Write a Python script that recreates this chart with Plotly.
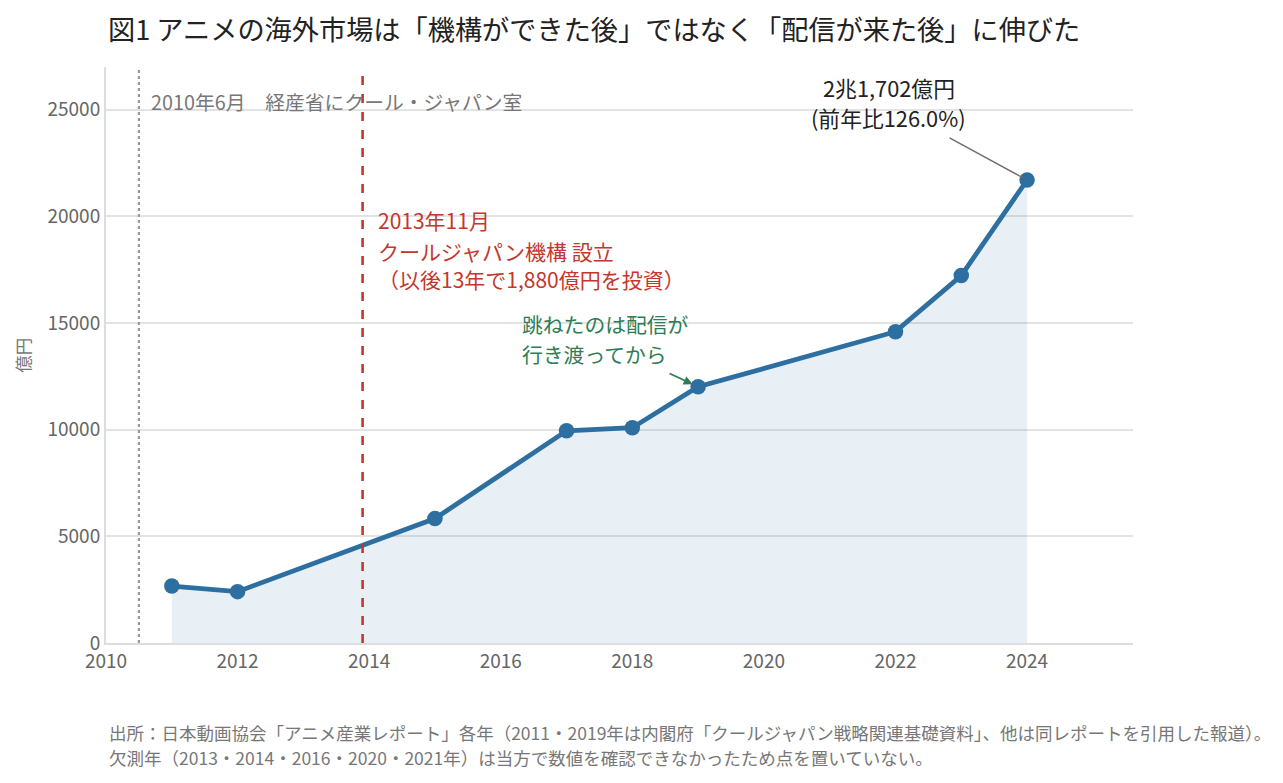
import plotly.graph_objects as go

# ---- data ----
years = [2011, 2012, 2015, 2017, 2018, 2019, 2022, 2023, 2024]
market_oku_yen = [2669, 2408, 5833, 9948, 10092, 12009, 14592, 17222, 21702]
x_ticks = [2010, 2012, 2014, 2016, 2018, 2020, 2022, 2024]
y_ticks = [0, 5000, 10000, 15000, 20000, 25000]
event_cool_japan_office = 2010.5     # 2010年6月
event_cool_japan_fund = 2013.9       # 2013年11月

title_text = "図1 アニメの海外市場は「機構ができた後」ではなく「配信が来た後」に伸びた"
note_lines = [
    "出所：日本動画協会「アニメ産業レポート」各年（2011・2019年は内閣府「クールジャパン戦略関連基礎資料」、他は同レポートを引用した報道）。",
    "欠測年（2013・2014・2016・2020・2021年）は当方で数値を確認できなかったため点を置いていない。",
]

FONT = "Noto Sans CJK JP"
LINE_C = "#2d6fa1"
RED = "#c4372c"
GREEN = "#2e7d57"

fig = go.Figure()

# filled area
fig.add_trace(go.Scatter(
    x=years, y=market_oku_yen, mode="lines", fill="tozeroy",
    fillcolor="rgba(44,110,160,0.11)",
    line=dict(color="rgba(44,110,160,0.12)", width=1.5),
    hoverinfo="skip", showlegend=False,
))

# vertical event lines
fig.add_shape(type="line", x0=event_cool_japan_office, x1=event_cool_japan_office,
              y0=0, y1=1, yref="paper", xref="x",
              line=dict(color="#9a9a9a", width=2.2, dash="dot"))
fig.add_shape(type="line", x0=event_cool_japan_fund, x1=event_cool_japan_fund,
              y0=0, y1=1, yref="paper", xref="x",
              line=dict(color=RED, width=2.6, dash="dash"))

# main line
fig.add_trace(go.Scatter(
    x=years, y=market_oku_yen, mode="lines+markers",
    line=dict(color=LINE_C, width=4.8),
    marker=dict(color=LINE_C, size=15.5),
    showlegend=False, hoverinfo="x+y",
))

ann = []
# 2010 label
ann.append(dict(x=2010.65, y=25380, xref="x", yref="y", xanchor="left", yanchor="middle",
                text="2010年6月　経産省にクール・ジャパン室", showarrow=False,
                font=dict(family=FONT, size=19.8, color="#777777")))
# red labels
red_lines = ["2013年11月", "クールジャパン機構 設立", "（以後13年で1,880億円を投資）"]
red_y = [19840, 18390, 17070]
for t, yv in zip(red_lines, red_y):
    ann.append(dict(x=2014.1, y=yv, xref="x", yref="y", xanchor="left", yanchor="middle",
                    text=t, showarrow=False, font=dict(family=FONT, size=21, color=RED)))
# green labels
green_lines = ["跳ねたのは配信が", "行き渡ってから"]
green_y = [14940, 13530]
for t, yv in zip(green_lines, green_y):
    ann.append(dict(x=2016.29, y=yv, xref="x", yref="y", xanchor="left", yanchor="middle",
                    text=t, showarrow=False, font=dict(family=FONT, size=20.8, color=GREEN)))
# green arrow
ann.append(dict(x=2019, y=12009, xref="x", yref="y", text="", showarrow=True,
                ax=-30, ay=-14, arrowhead=2, arrowsize=1, arrowwidth=1.8,
                arrowcolor=GREEN, standoff=6))
# peak label
peak_lines = ["2兆1,702億円", "(前年比126.0%)"]
peak_y = [26030, 24620]
for t, yv in zip(peak_lines, peak_y):
    ann.append(dict(x=2021.9, y=yv, xref="x", yref="y", xanchor="center", yanchor="middle",
                    text=t, showarrow=False, font=dict(family=FONT, size=21.8, color="#222222")))
ann.append(dict(x=2024, y=21702, xref="x", yref="y", text="", showarrow=True,
                ax=-79, ay=-43, arrowhead=0, arrowwidth=1.5, arrowcolor="#6f6f6f", standoff=5))
# title
ann.append(dict(x=0.0, y=1.068, xref="paper", yref="paper", xanchor="left", yanchor="middle",
                text=title_text, showarrow=False,
                font=dict(family=FONT, size=27.2, color="#222222")))
# y axis title
ann.append(dict(x=-0.082, y=0.5, xref="paper", yref="paper", xanchor="center", yanchor="middle",
                text="億円", textangle=-90, showarrow=False,
                font=dict(family=FONT, size=17.5, color="#777777")))
# notes
note_y = [-0.156, -0.199]
for t, yv in zip(note_lines, note_y):
    ann.append(dict(x=0.001, y=yv, xref="paper", yref="paper", xanchor="left", yanchor="middle",
                    text=t, showarrow=False, font=dict(family=FONT, size=17.5, color="#777777")))

fig.update_layout(
    width=1283, height=783,
    margin=dict(l=98, r=158, t=59, b=148),
    paper_bgcolor="white", plot_bgcolor="white",
    font=dict(family=FONT, color="#666666"),
    annotations=ann,
    showlegend=False,
)
fig.update_xaxes(range=[2010, 2025.61], tickvals=x_ticks, showgrid=False,
                 showline=True, linecolor="#dddddd", linewidth=2,
                 ticks="", tickfont=dict(family=FONT, size=19, color="#666666"),
                 zeroline=False)
fig.update_yaxes(range=[0, 27000], tickvals=y_ticks, tickformat="d", showgrid=True,
                 gridcolor="#e3e3e3", gridwidth=1.5,
                 showline=True, linecolor="#dddddd", linewidth=2,
                 ticks="", tickfont=dict(family=FONT, size=19, color="#666666"),
                 zeroline=False)

fig.write_html("out.html")
